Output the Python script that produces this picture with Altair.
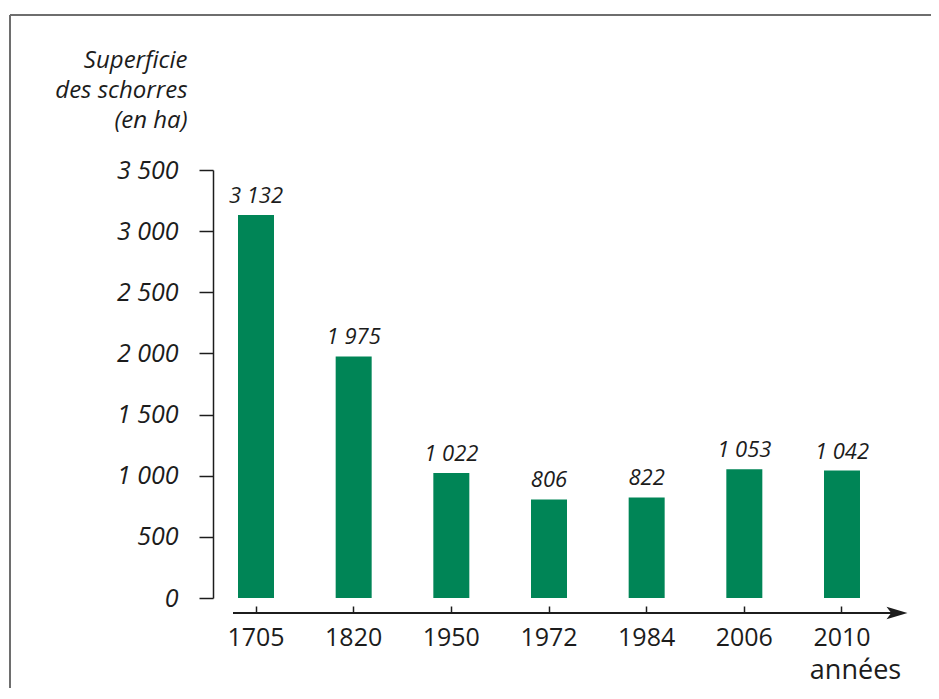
import altair as alt
import pandas as pd

years = ["1705", "1820", "1950", "1972", "1984", "2006", "2010"]
values = [3132, 1975, 1022, 806, 822, 1053, 1042]
y_ticks = [0, 500, 1000, 1500, 2000, 2500, 3000, 3500]
y_title = ["Superficie", "des schorres", "(en ha)"]
x_title = "années"

W, H = 672, 428
PAD = {"left": 205, "top": 162, "right": 46, "bottom": 90}
FONT = "Open Sans"
GREEN = "#008556"
INK = "#1c1c1c"

df = pd.DataFrame({"year": years, "value": values})
one = pd.DataFrame({"k": [0]})

fmt = "replace(format(datum.value, ','), ',', ' ')"

x_enc = alt.X(
    "year:N",
    sort=years,
    scale=alt.Scale(paddingInner=0.6314, paddingOuter=0.256),
    axis=alt.Axis(
        domain=False,
        ticks=True,
        tickSize=7,
        tickColor=INK,
        tickWidth=1.5,
        offset=8,
        labelAngle=0,
        labelFontSize=25,
        labelColor=INK,
        labelPadding=12,
        title=x_title,
        titleFontSize=27,
        titleFontWeight="normal",
        titleColor=INK,
        titleX=642,
        titleY=72,
        titleAlign="center",
        titleBaseline="alphabetic",
    ),
)

y_enc = alt.Y(
    "value:Q",
    scale=alt.Scale(domain=[0, 3500], nice=False),
    axis=alt.Axis(
        values=y_ticks,
        labelExpr=fmt,
        grid=False,
        domainColor=INK,
        domainWidth=1.5,
        tickColor=INK,
        tickWidth=1.5,
        tickSize=14,
        labelPadding=21,
        labelFontSize=25,
        labelFontStyle="italic",
        labelColor=INK,
        title=y_title,
        titleAngle=0,
        titleAlign="right",
        titleBaseline="alphabetic",
        titleX=-26,
        titleY=-103,
        titleFontSize=24,
        titleFontStyle="italic",
        titleFontWeight="normal",
        titleColor=INK,
        titleLineHeight=30,
    ),
)

bars = alt.Chart(df).mark_bar(color=GREEN, size=36).encode(x=x_enc, y=y_enc)

labels = (
    alt.Chart(df)
    .transform_calculate(label=fmt)
    .mark_text(
        baseline="alphabetic",
        dy=-12,
        fontSize=22,
        fontStyle="italic",
        font=FONT,
        color=INK,
    )
    .encode(x=alt.X("year:N", sort=years), y="value:Q", text="label:N")
)

x_line = alt.Chart(one).mark_rule(color=INK, strokeWidth=1.8).encode(
    x=alt.value(20), x2=alt.value(688), y=alt.value(H + 15)
)
arrow = alt.Chart(one).mark_point(
    shape="M-1,-0.6L1,0L-1,0.6L-0.55,0Z", filled=True, color=INK, opacity=1, size=440
).encode(x=alt.value(684), y=alt.value(H + 15))

frame_top = alt.Chart(one).mark_rule(color="#6e6e6e", strokeWidth=2).encode(
    x=alt.value(-203), x2=alt.value(W + PAD["right"]), y=alt.value(-155)
)
frame_left = alt.Chart(one).mark_rule(color="#6e6e6e", strokeWidth=2).encode(
    x=alt.value(-203), y=alt.value(-155), y2=alt.value(H + PAD["bottom"])
)

chart = (
    alt.layer(frame_top, frame_left, bars, labels, x_line, arrow)
    .properties(
        width=W,
        height=H,
        padding=PAD,
        autosize=alt.AutoSizeParams(type="none"),
    )
    .configure(font=FONT)
    .configure_view(stroke=None)
)

chart.save("out.html", embed_options={"renderer": "svg", "actions": False})
